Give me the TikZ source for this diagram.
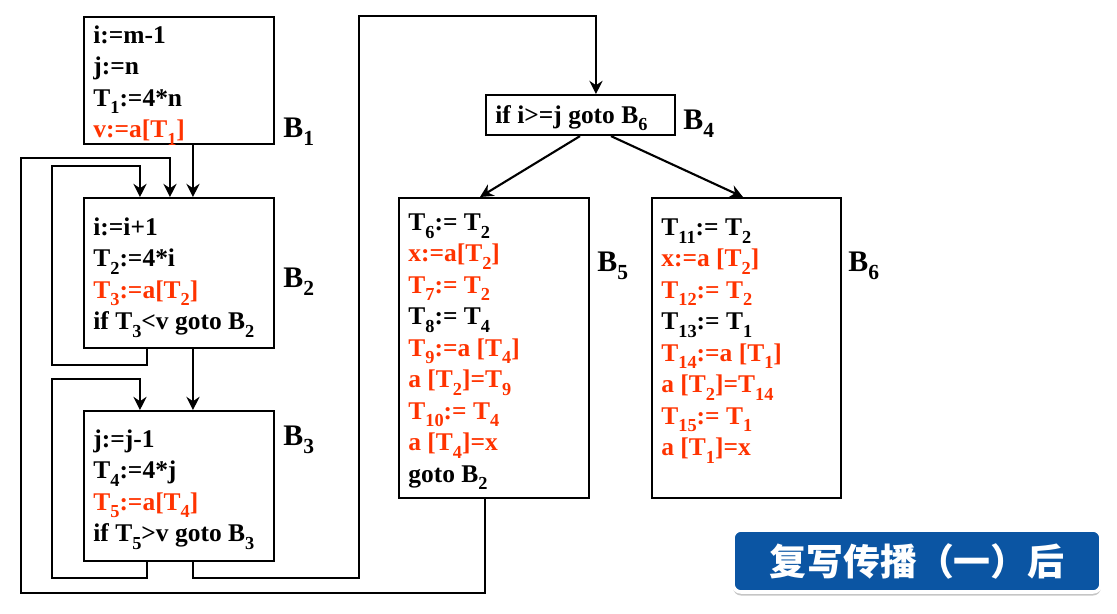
\documentclass[tikz,border=0pt]{standalone}
\usepackage{fontspec}
\setmainfont{Liberation Serif}
\newfontfamily\cjk{Noto Sans CJK SC}
\usepackage{xcolor}
\usepackage{tikz}
\usetikzlibrary{arrows.meta, shadows}
\definecolor{hlred}{HTML}{FF3300}
\definecolor{capblue}{HTML}{0B55A3}
\makeatletter
\newcommand{\sbs}[1]{\raisebox{-0.3em}{\fontsize{\dimexpr0.72\dimexpr\f@size pt\relax\relax}{0pt}\selectfont #1}}
\makeatother
\newcommand{\redtxt}[1]{\textcolor{hlred}{#1}}

\begin{document}
\begin{tikzpicture}[x=0.02cm, y=-0.02cm,
  blk/.style={rectangle, draw, line width=1.2pt, anchor=north west,
              minimum width=3.8cm, inner sep=0pt},
  code/.style={anchor=base west, align=left, inner sep=0pt,
               font=\fontsize{14.5}{17.9}\selectfont\bfseries},
  blbl/.style={anchor=base west, inner sep=0pt,
               font=\fontsize{17}{20}\selectfont\bfseries},
  arr/.style={-{Stealth[length=7.5pt, width=7.5pt, inset=2.5pt]}, line width=1.2pt},
  caption/.style={rectangle, rounded corners=0.16cm, fill=capblue, draw=white,
                  line width=2pt, minimum width=7.36cm, minimum height=1.24cm,
                  text=white, font=\cjk\bfseries\fontsize{21}{21}\selectfont,
                  drop shadow={shadow xshift=0pt, shadow yshift=-2pt, fill=black!45}}
]
\useasboundingbox (0,0) rectangle (1117,613);
% basic blocks
\node[blk, minimum height=2.54cm] (b1) at (83,16) {};
\node[blk, minimum height=3cm] (b2) at (83,197) {};
\node[blk, minimum height=3cm] (b3) at (83,410) {};
\node[blk, minimum width=3.78cm, minimum height=0.8cm] (b4) at (485,94) {};
\node[blk, minimum height=6cm] (b5) at (398,197) {};
\node[blk, minimum width=3.78cm, minimum height=6cm] (b6) at (651,197) {};
% block contents (base = last line)
\node[code] (t1) at (93,137.5) {i:=m-1\\ j:=n\\ T\sbs{1}:=4*n\\
  \redtxt{v:=a[T\sbs{1}]}};
\node[code] (t2) at (93,329.5) {i:=i+1\\ T\sbs{2}:=4*i\\
  \redtxt{T\sbs{3}:=a[T\sbs{2}]}\\ if T\sbs{3}<v goto B\sbs{2}};
\node[code] (t3) at (93,541.5) {j:=j-1\\ T\sbs{4}:=4*j\\
  \redtxt{T\sbs{5}:=a[T\sbs{4}]}\\ if T\sbs{5}>v goto B\sbs{3}};
\node[code] (t4) at (495,123) {if i>=j goto B\sbs{6}};
\node[code] (t5) at (408,482) {T\sbs{6}:= T\sbs{2}\\
  \redtxt{x:=a[T\sbs{2}]}\\
  \redtxt{T\sbs{7}:= T\sbs{2}}\\
  T\sbs{8}:= T\sbs{4}\\
  \redtxt{T\sbs{9}:=a [T\sbs{4}]}\\
  \redtxt{a [T\sbs{2}]=T\sbs{9}}\\
  \redtxt{T\sbs{10}:= T\sbs{4}}\\
  \redtxt{a [T\sbs{4}]=x}\\
  goto B\sbs{2}};
\node[code] (t6) at (661,455.5) {T\sbs{11}:= T\sbs{2}\\
  \redtxt{x:=a [T\sbs{2}]}\\
  \redtxt{T\sbs{12}:= T\sbs{2}}\\
  T\sbs{13}:= T\sbs{1}\\
  \redtxt{T\sbs{14}:=a [T\sbs{1}]}\\
  \redtxt{a [T\sbs{2}]=T\sbs{14}}\\
  \redtxt{T\sbs{15}:= T\sbs{1}}\\
  \redtxt{a [T\sbs{1}]=x}};
% block names
\node[blbl] (n1) at (283,137) {B\sbs{1}};
\node[blbl] (n2) at (283,287) {B\sbs{2}};
\node[blbl] (n3) at (283,445) {B\sbs{3}};
\node[blbl] (n4) at (683,129) {B\sbs{4}};
\node[blbl] (n5) at (597,271) {B\sbs{5}};
\node[blbl] (n6) at (848,271) {B\sbs{6}};
% control flow
\draw[arr] ([xshift=2.2cm]b1.south west) -- ([xshift=2.2cm]b2.north west);
\draw[arr] ([xshift=1.28cm]b2.south west) -- ++(0,16) -- ++(-95,0)
  |- ([xshift=1.14cm, yshift=0.62cm]b2.north west) -- ([xshift=1.14cm]b2.north west);
\draw[arr] ([xshift=2.2cm]b2.south west) -- ([xshift=2.2cm]b3.north west);
\draw[arr] ([xshift=1.28cm]b3.south west) -- ++(0,16) -- ++(-95,0)
  |- ([xshift=1.14cm, yshift=0.62cm]b3.north west) -- ([xshift=1.14cm]b3.north west);
\draw[arr] ([xshift=2.2cm]b3.south west) -- ++(0,16) -- ++(166,0)
  |- ([xshift=2.22cm, yshift=1.56cm]b4.north west) -- ([xshift=2.22cm]b4.north west);
\draw[arr] ([xshift=1.9cm]b4.south west) -- ([xshift=1.64cm]b5.north west);
\draw[arr] ([xshift=2.52cm]b4.south west) -- ([xshift=1.84cm]b6.north west);
\draw[arr] ([xshift=1.74cm]b5.south west) -- ++(0,94) -- ++(-464,0)
  |- ([xshift=1.74cm, yshift=0.78cm]b2.north west) -- ([xshift=1.74cm]b2.north west);
% caption
\node[caption] (cap) at (917,561) {复写传播（一）后};
\end{tikzpicture}
\end{document}
